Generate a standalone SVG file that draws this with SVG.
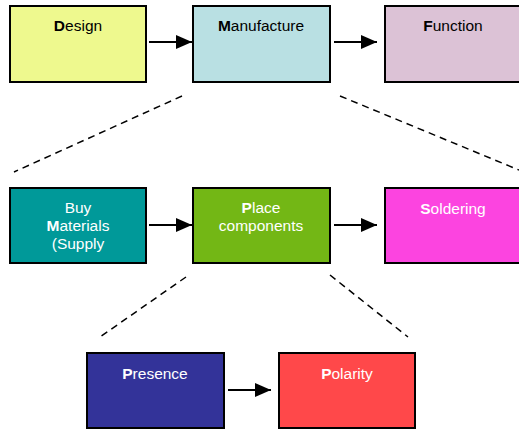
<svg xmlns="http://www.w3.org/2000/svg" width="519" height="429" viewBox="0 0 519 429">
<defs>
<marker id="ah" markerWidth="16" markerHeight="14" refX="16" refY="7" orient="auto" markerUnits="userSpaceOnUse">
<path d="M0,0 L16,7 L0,14 Z" fill="#000"/>
</marker>
<style>
.box{stroke:#000;stroke-width:2}
.t{font-family:"Liberation Sans",Arial,sans-serif;font-size:15.5px;text-anchor:middle}
.d{fill:#000}
.w{fill:#fff}
.arr{stroke:#000;stroke-width:2;fill:none;marker-end:url(#ah)}
.dash{stroke:#000;stroke-width:1.5;fill:none;stroke-dasharray:7,5}
</style>
</defs>
<rect width="519" height="429" fill="#fff"/>
<g id="design"><rect class="box" x="10" y="6" width="136" height="76" fill="#EEF98E"/><text class="t d" x="78" y="31"><tspan font-weight="bold">D</tspan>esign</text></g>
<g id="manufacture"><rect class="box" x="193" y="6" width="137" height="76" fill="#B9E0E3"/><text class="t d" x="261" y="31"><tspan font-weight="bold">M</tspan>anufacture</text></g>
<g id="function"><rect class="box" x="385" y="6" width="140" height="76" fill="#DCC2D6"/><text class="t d" x="453" y="31"><tspan font-weight="bold">F</tspan>unction</text></g>
<g id="buy"><rect class="box" x="10" y="188" width="136" height="75" fill="#009999"/><text class="t w" x="78" y="213">Buy</text><text class="t w" x="78" y="231"><tspan font-weight="bold">M</tspan>aterials</text><text class="t w" x="78" y="249">(Supply</text></g>
<g id="place"><rect class="box" x="193" y="188" width="137" height="75" fill="#73B715"/><text class="t w" x="261" y="213"><tspan font-weight="bold">P</tspan>lace</text><text class="t w" x="261" y="231">components</text></g>
<g id="soldering"><rect class="box" x="385" y="188" width="140" height="75" fill="#FC44E0"/><text class="t w" x="453" y="214"><tspan font-weight="bold">S</tspan>oldering</text></g>
<g id="presence"><rect class="box" x="87" y="353" width="137" height="75" fill="#333399"/><text class="t w" x="155" y="379"><tspan font-weight="bold">P</tspan>resence</text></g>
<g id="polarity"><rect class="box" x="279" y="353" width="136" height="75" fill="#FF484A"/><text class="t w" x="347" y="379"><tspan font-weight="bold">P</tspan>olarity</text></g>
<g id="connectors">
<line class="arr" x1="149" y1="42" x2="192" y2="42"/>
<line class="arr" x1="334" y1="42" x2="377" y2="42"/>
<line class="arr" x1="149" y1="225" x2="192" y2="225"/>
<line class="arr" x1="334" y1="225" x2="377" y2="225"/>
<line class="arr" x1="228" y1="390" x2="271" y2="390"/>
<line class="dash" x1="182" y1="96" x2="14" y2="172"/>
<line class="dash" x1="340" y1="96" x2="519" y2="170"/>
<line class="dash" x1="186" y1="277" x2="100" y2="337"/>
<line class="dash" x1="330" y1="275" x2="408" y2="337"/>
</g>
</svg>
